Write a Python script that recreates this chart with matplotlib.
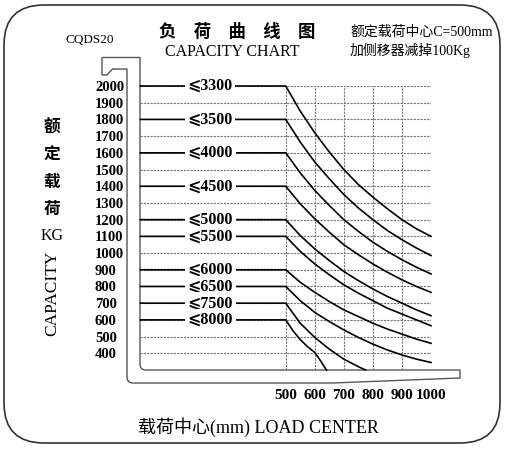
import matplotlib
matplotlib.use("Agg")
import matplotlib.pyplot as plt
from matplotlib.patches import FancyBboxPatch, PathPatch
from matplotlib.path import Path

plt.rcParams['font.family'] = ['Liberation Serif', 'Noto Sans CJK SC']

# 额定载荷 (kg) 刻度 / 载荷中心 (mm) 刻度
capacity_ticks = [400, 500, 600, 700, 800, 900, 1000, 1100, 1200, 1300,
                  1400, 1500, 1600, 1700, 1800, 1900, 2000]
center_ticks = [500, 600, 700, 800, 900, 1000]

# 起升高度 (mm)
lift_heights = ["3300", "3500", "4000", "4500", "5000",
                "5500", "6000", "6500", "7500", "8000"]

# 各起升高度下的载荷曲线
centers = [500, 550, 600, 650, 700, 750, 800, 850, 900, 950, 1000]
load_3300 = [2000, 1850, 1720, 1605, 1500, 1410, 1335, 1265, 1200, 1145, 1100]
load_3500 = [1800, 1665, 1545, 1445, 1350, 1270, 1200, 1135, 1080, 1030, 985]
load_4000 = [1600, 1480, 1375, 1285, 1200, 1130, 1065, 1010, 960, 915, 875]
load_4500 = [1400, 1295, 1205, 1125, 1050, 990, 935, 885, 840, 800, 765]
load_5000 = [1200, 1105, 1025, 955, 890, 835, 785, 740, 700, 660, 625]
load_5500 = [1100, 1010, 935, 870, 810, 760, 715, 670, 635, 600, 565]
load_6000 = [900, 825, 765, 710, 660, 620, 580, 545, 515, 485, 460]
load_6500 = [800, 715, 645, 590, 540, 495, 455, 420, 390, 365, 345]
centers_7500 = [500, 550, 600, 650, 700, 750, 775]
load_7500 = [700, 580, 495, 425, 365, 320, 300]
centers_8000 = [500, 525, 550, 575, 600, 620, 640]
load_8000 = [600, 535, 482, 440, 405, 355, 300]

curves = [
    (centers, load_3300), (centers, load_3500), (centers, load_4000),
    (centers, load_4500), (centers, load_5000), (centers, load_5500),
    (centers, load_6000), (centers, load_6500),
    (centers_7500, load_7500), (centers_8000, load_8000),
]

W, H = 508, 457
fig = plt.figure(figsize=(W / 100, H / 100), dpi=100)

# 背景层: 外框, 货叉, 文字 (像素坐标)
deco = fig.add_axes([0, 0, 1, 1])
deco.set_xlim(0, W)
deco.set_ylim(H, 0)
deco.axis('off')

deco.add_patch(FancyBboxPatch((4, 5), 496, 438,
                              boxstyle='round,pad=0,rounding_size=40',
                              fill=False, ec='#333333', lw=1.2))

verts = [(460, 370), (146, 370), (140, 370), (140, 364), (140, 57.5),
         (102, 57.5), (102, 75), (107, 75), (112.5, 69), (127, 69),
         (127, 377), (127, 383), (133, 383), (333, 383), (460, 378),
         (460, 370)]
codes = [Path.MOVETO, Path.LINETO, Path.CURVE3, Path.CURVE3, Path.LINETO,
         Path.LINETO, Path.LINETO, Path.LINETO, Path.LINETO, Path.LINETO,
         Path.LINETO, Path.CURVE3, Path.CURVE3, Path.LINETO, Path.LINETO,
         Path.CLOSEPOLY]
deco.add_patch(PathPatch(Path(verts, codes), fill=False, ec='#555555', lw=1.0))

deco.text(90, 40, 'CQDS20', ha='center', va='center', size=9.5)
deco.text(237, 32, '负\u3000荷\u3000曲\u3000线\u3000图', ha='center', va='center',
          size=12.5, weight='bold', family=['Noto Sans CJK SC'])
deco.text(232, 52, 'CAPACITY CHART', ha='center', va='center', size=11.5)
deco.text(350, 32, '额定载荷中心C=500mm', ha='left', va='center', size=10,
          weight='medium')
deco.text(350, 50, '加侧移器减掉100Kg', ha='left', va='center', size=10,
          weight='medium')

for i, ch in enumerate(['额', '定', '载', '荷']):
    deco.text(52, 128 + i * 27, ch, ha='center', va='center', size=12,
              weight='bold', family=['Noto Sans CJK SC'])
deco.text(52, 236, 'KG', ha='center', va='center', size=11.5)
deco.text(52, 293, 'CAPACITY', rotation=90, ha='center', va='center', size=12.5)
deco.text(258, 427, '载荷中心(mm) LOAD CENTER', ha='center', va='center', size=13,
          weight='medium')

# 数据层
ax = fig.add_axes([140.4 / W, 1 - 370 / H, (431 - 140.4) / W, (370 - 86) / H])
ax.set_xlim(0, 1000)
ax.set_ylim(300, 2000)
ax.patch.set_alpha(0)
for s in ax.spines.values():
    s.set_visible(False)

ax.set_yticks(capacity_ticks)
ax.set_xticks(center_ticks)
ax.grid(True, ls=(0, (2, 1)), color='#777777', lw=0.8)
ax.tick_params(axis='y', length=0, pad=32.7, labelsize=10.5)
ax.tick_params(axis='x', length=0, pad=14, labelsize=11)
for lbl in ax.get_yticklabels():
    lbl.set_ha('left')
    lbl.set_fontweight('bold')
for lbl in ax.get_xticklabels():
    lbl.set_fontweight('bold')

x0 = ax.get_xlim()[0]
for (c, q), h in zip(curves, lift_heights):
    ax.plot([x0] + c, [q[0]] + q, color='black', lw=1.2, clip_on=False, zorder=3)
    ax.text(240, q[0], '\u2a7d' + h, ha='center', va='center', size=11.5,
            weight='bold', family=['Liberation Serif', 'DejaVu Sans'],
            zorder=4, bbox=dict(fc='white', ec='none', pad=2))

fig.savefig('out.png', dpi=100)
